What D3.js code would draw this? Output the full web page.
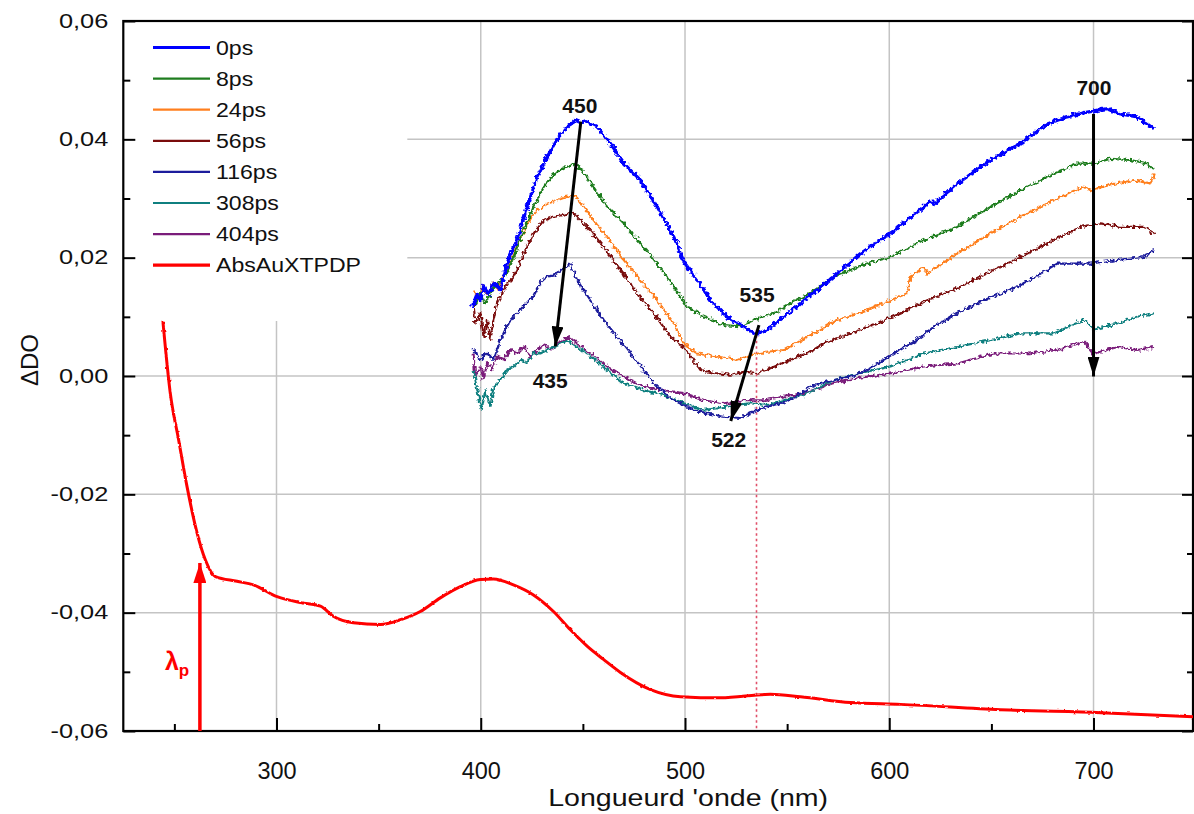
<!DOCTYPE html>
<html><head><meta charset="utf-8">
<script src="https://cdn.jsdelivr.net/npm/d3@7"></script>
<style>
html,body{margin:0;padding:0;background:#fff;}
svg{display:block;font-family:"Liberation Sans",Arial,sans-serif;}
</style></head>
<body>
<svg id="chart" width="1194" height="814"></svg>
<script>
// ---------- data (wavelength nm, ΔDO) ----------
const s0ps = [[395.8,0.0117],[398.1,0.0138],[399.8,0.0128],[401.4,0.0152],[403.8,0.0138],[406.3,0.0157],[409.6,0.0146],[411.0,0.0165],[413.5,0.0196],[417.8,0.0230],[422.7,0.0286],[427.6,0.0336],[432.5,0.0370],[437.4,0.0401],[442.3,0.0421],[446.4,0.0432],[449.0,0.0428],[452.1,0.0430],[457.0,0.0421],[463.5,0.0393],[470.1,0.0359],[478.2,0.0331],[486.4,0.0286],[494.5,0.0235],[497.0,0.0215],[499.4,0.0193],[506.0,0.0162],[512.5,0.0128],[520.6,0.0100],[528.8,0.0083],[533.7,0.0072],[538.6,0.0075],[546.7,0.0095],[556.5,0.0123],[564.7,0.0145],[572.8,0.0168],[585.9,0.0207],[600.6,0.0241],[616.9,0.0286],[620.0,0.0296],[622.0,0.0291],[633.3,0.0325],[649.6,0.0365],[664.3,0.0393],[677.3,0.0426],[687.1,0.0438],[697.0,0.0446],[706.7,0.0452],[713.2,0.0443],[721.4,0.0438],[729.6,0.0418]];
const s8ps = [[396.5,0.0118],[399.8,0.0140],[402.2,0.0123],[405.5,0.0145],[408.6,0.0157],[412.1,0.0170],[416.1,0.0201],[421.0,0.0246],[425.9,0.0286],[430.8,0.0319],[435.7,0.0342],[440.6,0.0351],[445.5,0.0359],[449.6,0.0348],[455.3,0.0319],[461.9,0.0286],[470.0,0.0258],[478.2,0.0224],[486.4,0.0190],[494.5,0.0151],[501.0,0.0117],[509.2,0.0100],[519.0,0.0086],[527.1,0.0084],[535.3,0.0097],[543.5,0.0106],[551.6,0.0123],[561.4,0.0140],[572.8,0.0168],[589.2,0.0190],[600.6,0.0201],[616.9,0.0230],[633.3,0.0252],[649.6,0.0286],[664.3,0.0314],[680.6,0.0342],[692.0,0.0359],[700.0,0.0359],[708.4,0.0367],[718.1,0.0365],[726.3,0.0359],[729.6,0.0348]];
const s24ps = [[396.5,0.0146],[398.7,0.0130],[401.1,0.0152],[403.6,0.0135],[406.0,0.0158],[408.5,0.0146],[410.9,0.0169],[413.3,0.0180],[417.8,0.0218],[422.7,0.0258],[427.6,0.0280],[432.5,0.0291],[437.4,0.0297],[442.3,0.0303],[446.4,0.0305],[450.4,0.0286],[455.3,0.0263],[461.9,0.0235],[470.0,0.0196],[478.2,0.0162],[486.4,0.0128],[494.5,0.0089],[499.4,0.0055],[505.9,0.0038],[515.7,0.0033],[525.5,0.0027],[532.1,0.0035],[540.2,0.0041],[548.4,0.0044],[556.5,0.0060],[564.7,0.0075],[572.8,0.0092],[584.3,0.0106],[597.3,0.0123],[608.8,0.0140],[610.4,0.0168],[616.9,0.0184],[618.6,0.0173],[633.3,0.0207],[649.6,0.0241],[664.3,0.0269],[680.6,0.0297],[695.3,0.0320],[698.6,0.0314],[710.0,0.0325],[719.8,0.0331],[728.0,0.0325],[729.6,0.0342]];
const s56ps = [[396.5,0.0124],[397.3,0.0090],[399.8,0.0107],[401.4,0.0066],[403.1,0.0095],[404.7,0.0061],[406.3,0.0095],[408.0,0.0124],[411.2,0.0145],[414.5,0.0162],[417.8,0.0179],[421.0,0.0207],[425.9,0.0241],[430.8,0.0263],[435.7,0.0269],[440.6,0.0272],[444.7,0.0277],[448.8,0.0263],[453.7,0.0246],[460.2,0.0218],[468.4,0.0179],[476.6,0.0140],[484.7,0.0106],[492.9,0.0066],[499.4,0.0049],[507.6,0.0010],[514.1,0.0005],[522.3,0.0002],[528.8,0.0007],[535.3,0.0005],[541.8,0.0013],[551.6,0.0027],[561.4,0.0041],[567.9,0.0055],[581.0,0.0072],[594.1,0.0089],[605.5,0.0106],[618.6,0.0128],[634.9,0.0151],[651.2,0.0179],[667.6,0.0207],[680.6,0.0230],[693.7,0.0252],[703.5,0.0258],[713.2,0.0252],[724.7,0.0252],[729.6,0.0241]];
const s116ps = [[396.3,0.0045],[399.7,0.0027],[403.1,0.0041],[406.1,0.0027],[409.5,0.0060],[412.8,0.0084],[416.1,0.0101],[419.3,0.0112],[422.6,0.0124],[425.9,0.0135],[429.2,0.0158],[432.5,0.0168],[435.7,0.0170],[439.8,0.0179],[443.9,0.0190],[447.2,0.0162],[453.7,0.0128],[460.2,0.0095],[466.8,0.0066],[473.3,0.0038],[479.8,0.0010],[486.4,-0.0018],[494.5,-0.0041],[502.7,-0.0055],[510.8,-0.0063],[519.0,-0.0069],[527.1,-0.0071],[535.3,-0.0057],[543.5,-0.0049],[551.6,-0.0041],[561.4,-0.0018],[566.3,-0.0012],[581.0,-0.0001],[589.2,0.0010],[602.2,0.0038],[613.7,0.0061],[621.8,0.0083],[633.3,0.0106],[646.3,0.0128],[662.7,0.0151],[674.1,0.0173],[682.2,0.0190],[698.6,0.0190],[711.7,0.0196],[724.7,0.0201],[729.6,0.0213]];
const s308ps = [[396.5,0.0010],[398.9,-0.0035],[400.5,-0.0057],[402.2,-0.0024],[404.7,-0.0052],[406.3,-0.0018],[409.6,-0.0007],[412.8,0.0010],[416.1,0.0016],[419.3,0.0027],[422.6,0.0022],[425.9,0.0038],[429.2,0.0038],[432.5,0.0044],[435.7,0.0049],[442.3,0.0061],[447.2,0.0049],[453.7,0.0033],[461.9,0.0010],[470.0,-0.0012],[479.8,-0.0024],[489.6,-0.0032],[499.4,-0.0046],[509.2,-0.0057],[515.7,-0.0055],[523.9,-0.0049],[532.1,-0.0046],[540.2,-0.0049],[548.4,-0.0041],[558.2,-0.0032],[572.8,-0.0007],[585.9,0.0005],[600.6,0.0016],[616.9,0.0038],[633.3,0.0049],[649.6,0.0061],[664.3,0.0072],[680.6,0.0072],[695.3,0.0095],[700.2,0.0078],[711.7,0.0089],[721.4,0.0100],[729.6,0.0106]];
const s404ps = [[396.5,0.0038],[397.3,-0.0001],[399.8,0.0016],[401.4,-0.0006],[403.1,0.0022],[405.5,0.0011],[408.0,0.0033],[411.2,0.0028],[414.5,0.0044],[417.8,0.0038],[421.0,0.0050],[424.3,0.0033],[427.6,0.0044],[430.8,0.0053],[434.1,0.0044],[437.4,0.0055],[440.6,0.0061],[443.1,0.0066],[447.2,0.0055],[453.7,0.0038],[461.9,0.0016],[470.0,-0.0001],[479.8,-0.0018],[489.6,-0.0024],[499.4,-0.0029],[509.2,-0.0041],[519.0,-0.0046],[528.8,-0.0041],[538.6,-0.0041],[548.4,-0.0035],[558.2,-0.0029],[572.8,-0.0012],[589.2,-0.0001],[602.2,0.0005],[616.9,0.0016],[633.3,0.0021],[651.2,0.0038],[667.6,0.0038],[682.2,0.0044],[695.3,0.0058],[700.2,0.0038],[711.7,0.0049],[721.4,0.0044],[729.6,0.0049]];
const absAu = [[244.4,0.0092],[248.0,-0.0029],[252.1,-0.0108],[256.2,-0.0187],[261.1,-0.0265],[265.2,-0.0311],[270.1,-0.0339],[280.7,-0.0347],[288.7,-0.0353],[300.3,-0.0373],[311.7,-0.0383],[321.5,-0.0389],[327.8,-0.0406],[337.6,-0.0417],[350.9,-0.0420],[360.7,-0.0412],[370.4,-0.0398],[380.2,-0.0375],[390.0,-0.0356],[399.8,-0.0344],[406.2,-0.0343],[416.0,-0.0353],[425.8,-0.0370],[435.6,-0.0398],[443.9,-0.0429],[452.2,-0.0457],[460.1,-0.0479],[468.4,-0.0501],[483.1,-0.0530],[497.8,-0.0542],[517.4,-0.0544],[541.8,-0.0538],[556.5,-0.0542],[581.0,-0.0552],[605.5,-0.0555],[654.5,-0.0564],[703.5,-0.0569],[748.7,-0.0576]];

const seriesNames = ["0ps","8ps","24ps","56ps","116ps","308ps","404ps","AbsAuXTPDP"];
const seriesData = [s0ps,s8ps,s24ps,s56ps,s116ps,s308ps,s404ps,absAu];
const seriesColors = ["#0000ff","#1f7d1f","#ff7f1e","#7a0c0c","#1c1c9c","#0f7f7f","#7a1c7a","#ff0000"];
const seriesWidths = [3.2,2.1,2.1,2.1,2.1,2.1,2.1,3];

const xMajorTicks = [300,400,500,600,700];
const xMinorTicks = [250,350,450,550,650,750];
const yMajorTicks = [-0.06,-0.04,-0.02,0.00,0.02,0.04,0.06];
const yMinorTicks = [-0.05,-0.03,-0.01,0.01,0.03,0.05];
const xGrid = [300,400,500,600,700];
const yGrid = [-0.04,-0.02,0.00,0.02,0.04];

// annotations (data units)
const peakArrows = [
  {from:[449.0,0.0430], to:[436.5,0.0050]},
  {from:[536.2,0.0086], to:[522.4,-0.0076]},
  {from:[700.0,0.0443], to:[700.0,-0.0001]}
];
const peakLabels = [
  {t:"450", x:448.5, y:0.0457},
  {t:"535", x:535.3, y:0.0137},
  {t:"435", x:434.0, y:-0.0008},
  {t:"522", x:521.4, y:-0.0108},
  {t:"700", x:700.2, y:0.0488}
];
const pumpWavelength = 262.5;
const pumpTipValue = -0.0316;
const dottedLine = {x:535, top:0.0078};

// ---------- layout ----------
const svg = d3.select("#chart");
const L = 123.3, R = 1193, T = 21, B = 731;
const x = d3.scaleLinear().domain([225, 748.7]).range([L, R]);
const y = d3.scaleLinear().domain([-0.06, 0.06]).range([B, T]);
const fmt = d => d3.format(".2f")(d).replace(".", ",").replace("−","-");

const defs = svg.append("defs");
defs.append("clipPath").attr("id","clip").append("rect")
  .attr("x",L).attr("y",T).attr("width",R-L).attr("height",B-T);
const noise = defs.append("filter").attr("id","noise")
  .attr("filterUnits","userSpaceOnUse").attr("x",L).attr("y",T).attr("width",R-L).attr("height",B-T);
noise.append("feTurbulence").attr("type","fractalNoise").attr("baseFrequency","0.28").attr("numOctaves",2).attr("seed",7).attr("result","t");
noise.append("feDisplacementMap").attr("in","SourceGraphic").attr("in2","t").attr("scale",6).attr("xChannelSelector","R").attr("yChannelSelector","G");
const noise2 = defs.append("filter").attr("id","noise2")
  .attr("filterUnits","userSpaceOnUse").attr("x",L).attr("y",T).attr("width",R-L).attr("height",B-T);
noise2.append("feTurbulence").attr("type","fractalNoise").attr("baseFrequency","0.3").attr("numOctaves",1).attr("seed",3).attr("result","t");
noise2.append("feDisplacementMap").attr("in","SourceGraphic").attr("in2","t").attr("scale",2.5).attr("xChannelSelector","R").attr("yChannelSelector","G");

function marker(id, color, len, wid){
  defs.append("marker").attr("id",id).attr("markerUnits","userSpaceOnUse")
    .attr("viewBox",`0 0 ${len} ${wid}`).attr("refX",len).attr("refY",wid/2)
    .attr("markerWidth",len).attr("markerHeight",wid).attr("orient","auto")
    .append("path").attr("d",`M0,0 L${len},${wid/2} L0,${wid} Z`).attr("fill",color);
}
marker("arrBlack","#000",20,12);
marker("arrRed","#ff0000",20,13);

// gridlines
const grid = svg.append("g");
grid.selectAll(".gx").data(xGrid).join("line")
  .attr("x1",d=>x(d)).attr("x2",d=>x(d)).attr("y1",T).attr("y2",B)
  .attr("stroke","#c4c4c4").attr("stroke-width",1.5);
grid.selectAll(".gy").data(yGrid).join("line")
  .attr("x1",L).attr("x2",R).attr("y1",d=>y(d)).attr("y2",d=>y(d))
  .attr("stroke","#c4c4c4").attr("stroke-width",1.5);

// legend background (covers grid)
svg.append("rect").attr("x",L+1).attr("y",T+1).attr("width",283).attr("height",299).attr("fill","#fff");

// axes
const ax = svg.append("g").attr("font-family","Liberation Sans, Arial, sans-serif");
const xAxisMajor = d3.axisBottom(x).tickValues(xMajorTicks).tickSize(-13).tickPadding(31).tickFormat(d3.format("d"));
const gx = ax.append("g").attr("transform",`translate(0,${B})`).call(xAxisMajor);
gx.selectAll("text").attr("font-size",23.5).attr("fill","#111");
ax.append("g").attr("transform",`translate(0,${B})`)
  .call(d3.axisBottom(x).tickValues(xMinorTicks.filter(v=>x(v)<=R)).tickSize(-7).tickFormat(""));
const gy = ax.append("g").attr("transform",`translate(${L},0)`)
  .call(d3.axisLeft(y).tickValues(yMajorTicks).tickSize(-12).tickPadding(0).tickFormat(fmt));
gy.selectAll("text").attr("font-size",19.5).attr("fill","#111")
  .attr("x",-15/1.3).attr("transform","scale(1.3,1)");
ax.append("g").attr("transform",`translate(${L},0)`)
  .call(d3.axisLeft(y).tickValues(yMinorTicks).tickSize(-7).tickFormat(""));
ax.append("g").attr("transform",`translate(${R},0)`)
  .call(d3.axisRight(y).tickValues(yMajorTicks).tickSize(-11).tickFormat(""));
ax.append("g").attr("transform",`translate(${R},0)`)
  .call(d3.axisRight(y).tickValues(yMinorTicks).tickSize(-6).tickFormat(""));
ax.selectAll(".domain").remove();
ax.selectAll(".tick line").attr("stroke","#000").attr("stroke-width",2);
svg.append("rect").attr("x",L).attr("y",T).attr("width",R-L).attr("height",B-T)
  .attr("fill","none").attr("stroke","#000").attr("stroke-width",2.2);

// dotted reference line at 535 nm
svg.append("line").attr("x1",x(dottedLine.x)).attr("x2",x(dottedLine.x))
  .attr("y1",y(dottedLine.top)).attr("y2",B)
  .attr("stroke","#e0506a").attr("stroke-width",1.6).attr("stroke-dasharray","2.5,3");

// curves
const line = d3.line().x(d=>x(d[0])).y(d=>y(d[1]));
const smooth = d3.line().x(d=>x(d[0])).y(d=>y(d[1])).curve(d3.curveMonotoneX);
const plot = svg.append("g").attr("clip-path","url(#clip)");
plot.append("g").attr("filter","url(#noise2)").append("path").datum(absAu).attr("d",smooth).attr("fill","none")
  .attr("stroke",seriesColors[7]).attr("stroke-width",seriesWidths[7]).attr("stroke-linejoin","round");
const trans = plot.append("g").attr("filter","url(#noise)");
for (let i = 6; i >= 0; i--) {
  trans.append("path").datum(seriesData[i]).attr("d",line).attr("fill","none")
    .attr("stroke",seriesColors[i]).attr("stroke-width",seriesWidths[i]).attr("stroke-linejoin","round");
}

// legend items
const leg = svg.append("g");
seriesNames.forEach((n,i)=>{
  const yy = 47.5 + i*31.1;
  leg.append("line").attr("x1",153).attr("x2",210).attr("y1",yy).attr("y2",yy)
    .attr("stroke",seriesColors[i]).attr("stroke-width",i===0||i===7?3.2:2.2);
  leg.append("text").attr("transform",`translate(216,${yy}) scale(1.1,1)`)
    .attr("dominant-baseline","central").attr("font-size",21).attr("fill","#111").text(n);
});

// peak-shift arrows & labels
peakArrows.forEach(a=>{
  svg.append("line").attr("x1",x(a.from[0])).attr("y1",y(a.from[1]))
    .attr("x2",x(a.to[0])).attr("y2",y(a.to[1]))
    .attr("stroke","#000").attr("stroke-width",3).attr("marker-end","url(#arrBlack)");
});
peakLabels.forEach(l=>{
  svg.append("text").attr("x",x(l.x)).attr("y",y(l.y)).attr("text-anchor","middle")
    .attr("dominant-baseline","central").attr("font-size",21).attr("font-weight","bold")
    .attr("fill","#111").text(l.t);
});

// pump arrow
svg.append("line").attr("x1",x(pumpWavelength)).attr("x2",x(pumpWavelength))
  .attr("y1",B).attr("y2",y(pumpTipValue))
  .attr("stroke","#ff0000").attr("stroke-width",3.5).attr("marker-end","url(#arrRed)");
const lp = svg.append("text").attr("x",x(pumpWavelength)-35).attr("y",y(pumpTipValue)+107)
  .attr("fill","#ff0000").attr("font-weight","bold").attr("font-size",25).attr("text-anchor","start");
lp.append("tspan").text("λ");
lp.append("tspan").attr("font-size",17).attr("dy",6).text("p");

// axis titles
svg.append("text").attr("transform",`translate(${(L+R)/2+30},806) scale(1.19,1)`)
  .attr("text-anchor","middle").attr("font-size",24).attr("fill","#111").text("Longueurd 'onde (nm)");
svg.append("text").attr("transform",`translate(38,360) rotate(-90)`)
  .attr("text-anchor","middle").attr("font-size",24).attr("fill","#111").text("ΔDO");
</script>
</body></html>
